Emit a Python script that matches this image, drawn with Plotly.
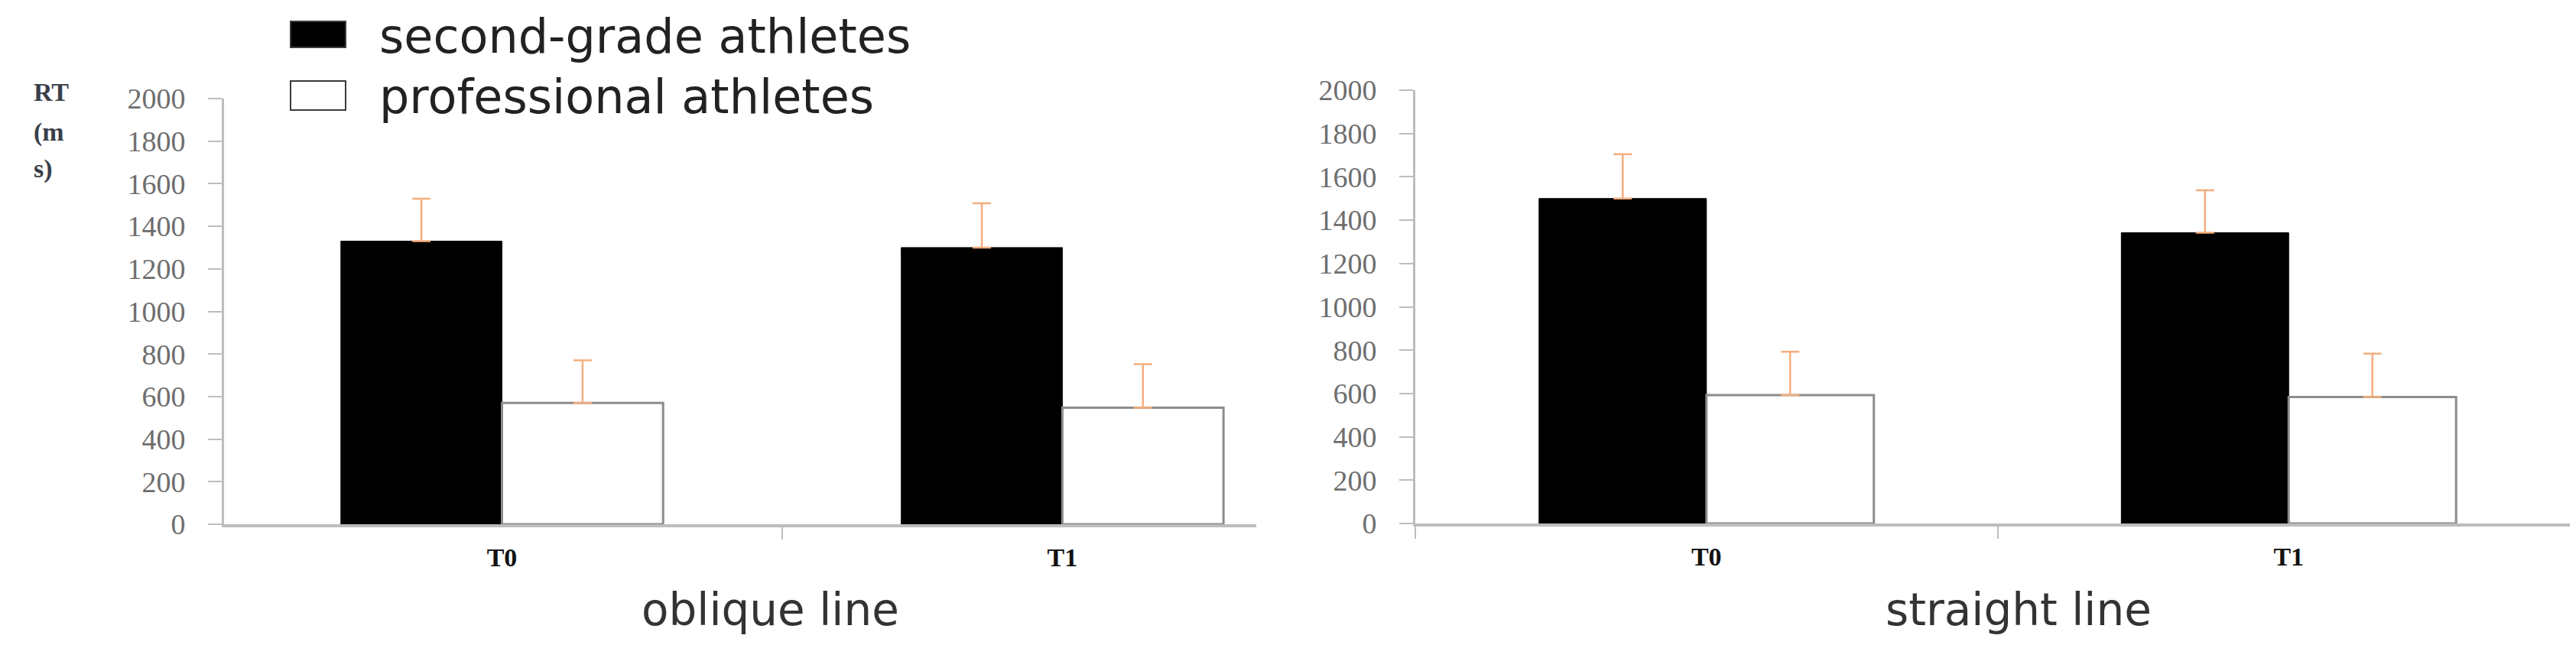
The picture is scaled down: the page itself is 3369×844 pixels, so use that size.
import plotly.graph_objects as go

W, H = 3369, 844

categories = ["T0", "T1"]
series_names = ["second-grade athletes", "professional athletes"]

# oblique line panel
oblique_second = [1330, 1300]
oblique_second_err = [200, 208]
oblique_prof = [570, 548]
oblique_prof_err = [200, 204]

# straight line panel
straight_second = [1500, 1342]
straight_second_err = [205, 196]
straight_prof = [593, 584]
straight_prof_err = [200, 200]

y_ticks = list(range(0, 2001, 200))
panel_titles = ["oblique line", "straight line"]

err_color = "#F4AE7E"
axis_color = "#BDBDBD"
tick_font = dict(family="Liberation Serif", size=38, color="#6E6E6E")
fills = ["black", "white"]
outlines = ["black", "#8C8C8C"]


def px(x):
    return x / W


def py(y):
    return 1 - y / H


fig = go.Figure()

panels = [
    ("x", "y", oblique_second, oblique_second_err, oblique_prof, oblique_prof_err),
    ("x2", "y2", straight_second, straight_second_err, straight_prof, straight_prof_err),
]

for xa, ya, sec, sec_err, prof, prof_err in panels:
    for i, (vals, errs) in enumerate([(sec, sec_err), (prof, prof_err)]):
        fig.add_trace(go.Bar(
            x=categories, y=vals, name=series_names[i], xaxis=xa, yaxis=ya,
            marker=dict(color=fills[i], line=dict(color=outlines[i], width=1 if i == 0 else 3)),
            error_y=dict(type="data", array=errs, arrayminus=[0, 0], symmetric=False,
                         color=err_color, thickness=2.5, width=12),
            showlegend=False,
        ))

xcommon = dict(
    type="category", showline=True, linecolor=axis_color, linewidth=4,
    ticks="outside", tickson="boundaries", ticklen=16, tickcolor=axis_color, tickwidth=2,
    tickfont=dict(family="Liberation Serif", size=34, color="#111111", weight="bold"),
    ticklabelstandoff=10, showgrid=False, zeroline=False, automargin=False,
)
ycommon = dict(
    range=[0, 2000], tickvals=y_ticks, showline=True, linecolor=axis_color, linewidth=3,
    ticks="outside", ticklen=18, tickcolor=axis_color, tickwidth=2,
    tickfont=tick_font, ticklabelstandoff=22,
    showgrid=False, zeroline=False, automargin=False,
)

fig.update_layout(
    width=W, height=H,
    margin=dict(l=0, r=0, t=0, b=0),
    paper_bgcolor="white", plot_bgcolor="white",
    template="none",
    barmode="group", bargap=0.425, bargroupgap=0,
    xaxis=dict(domain=[px(285), px(1635)], range=[-0.496, 1.346], anchor="y", **xcommon),
    yaxis=dict(domain=[py(678), py(121)], anchor="x", **ycommon),
    xaxis2=dict(domain=[px(1843), px(3366)], range=[-0.5, 1.5], anchor="y2", **xcommon),
    yaxis2=dict(domain=[py(677), py(110)], anchor="x2", **ycommon),
)

# legend keys and labels
legend_font = dict(family="DejaVu Sans", size=62, color="#222222")
for i, (top, bottom) in enumerate([(20, 54), (98, 136)]):
    fig.add_shape(type="rect", xref="paper", yref="paper",
                  x0=px(372), x1=px(444), y0=py(bottom), y1=py(top),
                  fillcolor=fills[i], line=dict(color="#3A3A3A", width=2))
    fig.add_annotation(text=series_names[i], x=px(486), y=py((top + bottom) / 2 + 2),
                       xref="paper", yref="paper", xanchor="left", yanchor="middle",
                       showarrow=False, font=legend_font)

title_font = dict(family="DejaVu Sans", size=58, color="#333333")
fig.add_annotation(text=panel_titles[0], x=px(999), y=py(790), xref="paper", yref="paper",
                   xanchor="center", yanchor="middle", showarrow=False, font=title_font)
fig.add_annotation(text=panel_titles[1], x=px(2632), y=py(790), xref="paper", yref="paper",
                   xanchor="center", yanchor="middle", showarrow=False, font=title_font)

# stacked y-axis label "RT(ms)"
ylab_font = dict(family="Liberation Serif", size=34, color="#3A3F4A", weight="bold")
for txt, yy in [("RT", 112), ("(m", 165), ("s)", 213)]:
    fig.add_annotation(text=txt, x=px(34), y=py(yy), xref="paper", yref="paper",
                       xanchor="left", yanchor="middle", showarrow=False, font=ylab_font)

fig.write_html("out.html")
